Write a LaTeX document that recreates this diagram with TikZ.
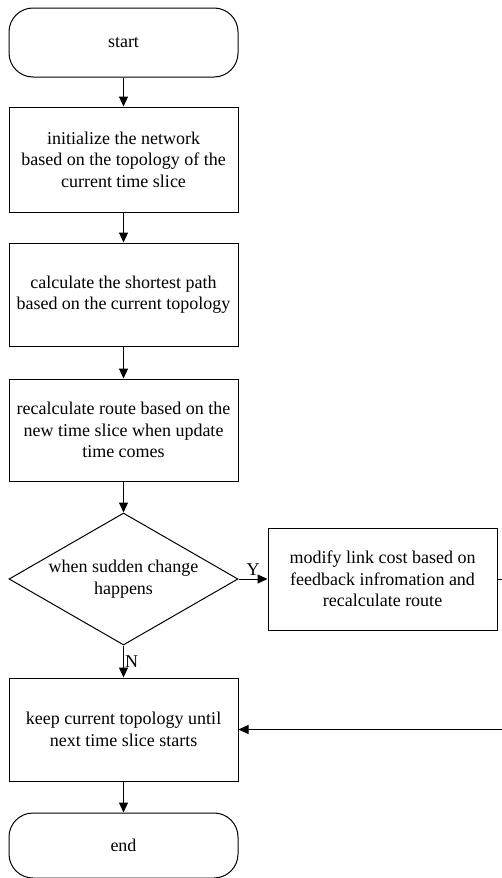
\documentclass[tikz,border=0pt]{standalone}
\usepackage{fontspec}
\setmainfont{Liberation Serif}
\usetikzlibrary{positioning,arrows.meta,shapes.geometric}

\begin{document}
\begin{tikzpicture}[x=1pt, y=1pt, node distance=31pt,
    every node/.style={font=\fontsize{18}{21.5}\selectfont},
    box/.style={draw, line width=1pt, minimum width=229pt, minimum height=103pt, align=center, inner sep=2pt},
    term/.style={draw, line width=1pt, rounded corners=24pt, minimum width=229pt, minimum height=69pt},
    decide/.style={draw, diamond, line width=1pt, aspect=1.73, minimum width=229pt, minimum height=132pt, inner sep=0pt, align=center},
    flow/.style={line width=1pt, -{Triangle[length=10pt,width=9pt]}}]
  \useasboundingbox (0,0) rectangle (502,-878);
  \node[term] (start) at (123.5,-42.5) {start};
  \node[box, minimum height=105pt, below=29pt of start] (init) {initialize the network\\based on the topology of the\\current time slice};
  \node[box, below=30pt of init] (short) {calculate the shortest path\\based on the current topology};
  \node[box, minimum height=102pt, below=32pt of short] (recalc) {recalculate route based on the\\new time slice when update\\time comes};
  \node[decide, below=31pt of recalc] (sudden) {when sudden change\\happens};
  \node[box, minimum height=102pt, right=29pt of sudden] (modify) {modify link cost based on\\feedback infromation and\\recalculate route};
  \node[box, below=32pt of sudden] (keep) {keep current topology until\\next time slice starts};
  \node[term, minimum height=65pt, below=31pt of keep] (end) {end};
  % connectors
  \draw[flow] (start) -- (init);
  \draw[flow] (init) -- (short);
  \draw[flow] (short) -- (recalc);
  \draw[flow] (recalc) -- (sudden);
  \draw[flow] (sudden) -- node[above]{Y} (modify);
  \draw[flow] (sudden) -- node[right, inner sep=1pt]{N} (keep);
  \draw[flow] (modify.east) -- ++(10,0) |- (keep.east);
  \draw[flow] (keep) -- (end);
\end{tikzpicture}
\end{document}
